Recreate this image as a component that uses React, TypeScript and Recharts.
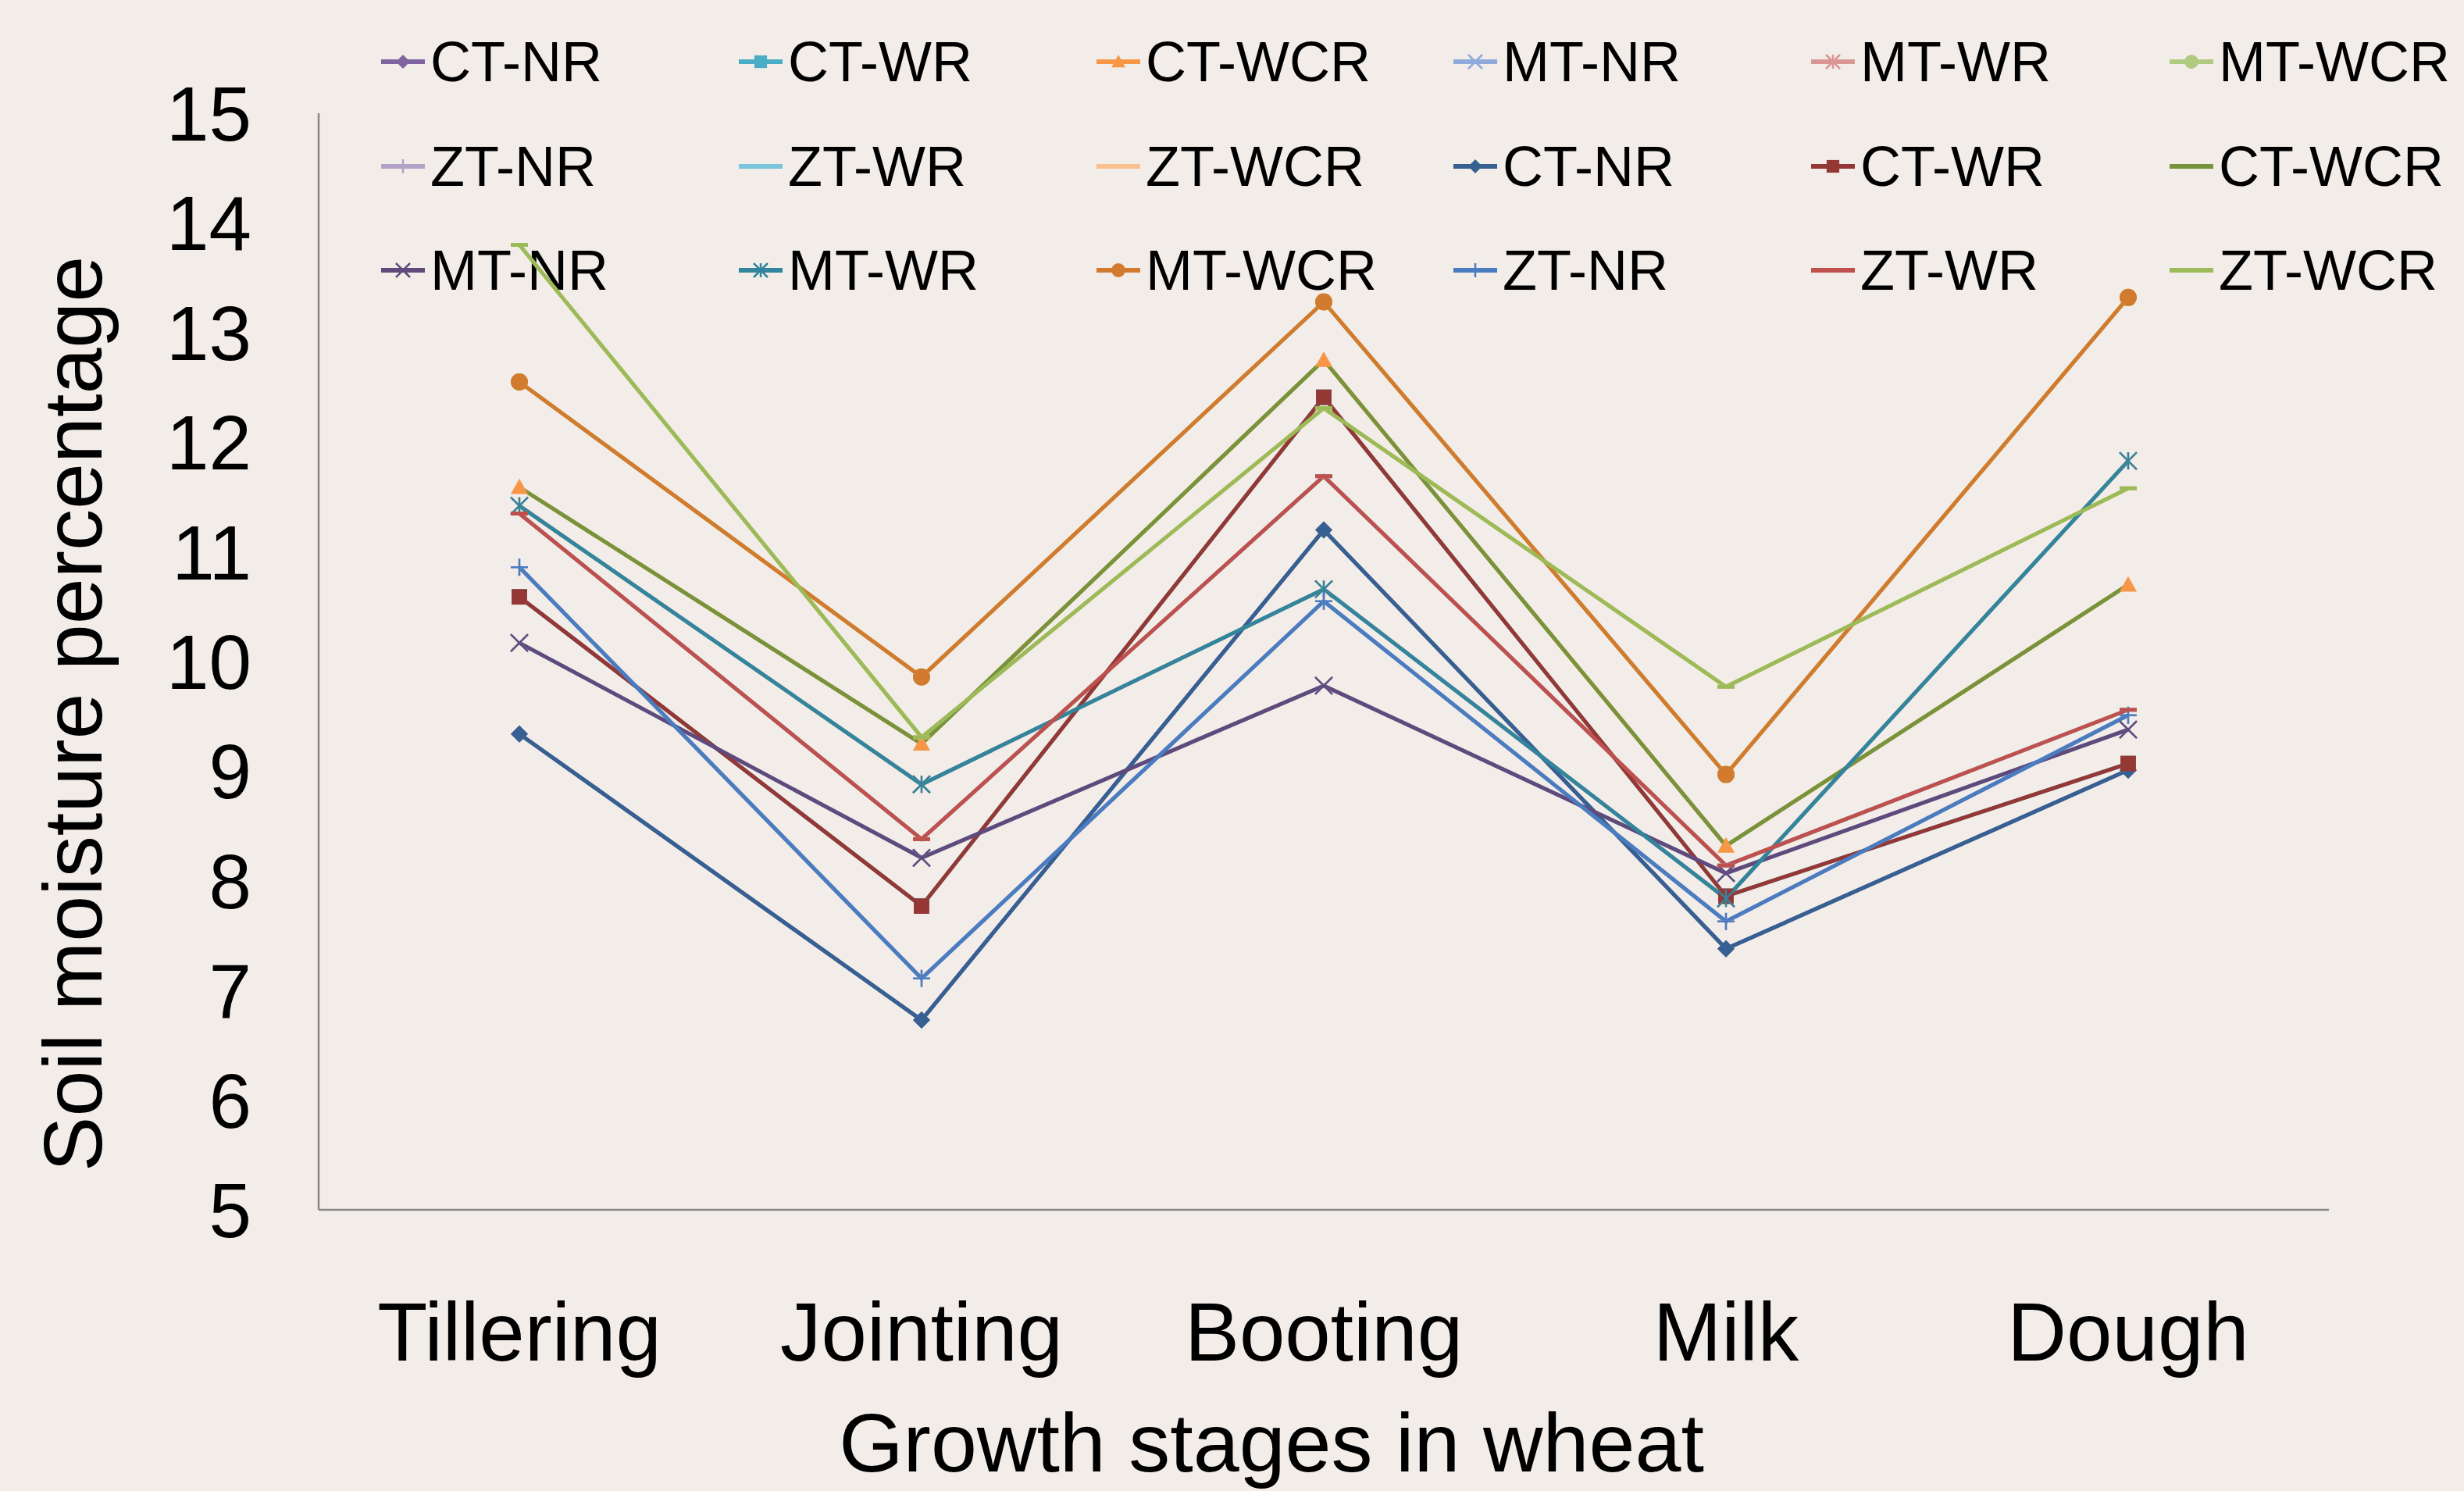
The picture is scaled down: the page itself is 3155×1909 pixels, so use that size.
import React from 'react';
import { LineChart, Line, XAxis, YAxis, Label } from 'recharts';

// growth stages and soil moisture (%) per treatment
const stages = ['Tillering', 'Jointing', 'Booting', 'Milk', 'Dough'];
const yTicks = [5, 6, 7, 8, 9, 10, 11, 12, 13, 14, 15];

const ctNR = [9.34, 6.73, 11.2, 7.38, 9.01];
const ctWR = [10.59, 7.77, 12.41, 7.86, 9.07];
const ctWCR = [11.59, 9.25, 12.75, 8.32, 10.7];
const mtNR = [10.17, 8.21, 9.78, 8.07, 9.38];
const mtWR = [11.42, 8.88, 10.66, 7.84, 11.83];
const mtWCR = [12.55, 9.86, 13.28, 8.97, 13.32];
const ztNR = [10.86, 7.11, 10.55, 7.63, 9.51];
const ztWR = [11.35, 8.38, 11.69, 8.14, 9.56];
const ztWCR = [13.8, 9.31, 12.31, 9.77, 11.58];

type Shape = 'diamond' | 'square' | 'triangle' | 'x' | 'star' | 'circle' | 'plus' | 'dash' | 'none';

interface SeriesDef {
  key: string;
  name: string;
  values: number[];
  color: string;
  shape: Shape;
}

const series: SeriesDef[] = [
  { key: 's1', name: 'CT-NR', values: ctNR, color: '#8064A2', shape: 'diamond' },
  { key: 's2', name: 'CT-WR', values: ctWR, color: '#4BACC6', shape: 'square' },
  { key: 's3', name: 'CT-WCR', values: ctWCR, color: '#F79646', shape: 'triangle' },
  { key: 's4', name: 'MT-NR', values: mtNR, color: '#8FAADC', shape: 'x' },
  { key: 's5', name: 'MT-WR', values: mtWR, color: '#D99694', shape: 'star' },
  { key: 's6', name: 'MT-WCR', values: mtWCR, color: '#B0CB80', shape: 'circle' },
  { key: 's7', name: 'ZT-NR', values: ztNR, color: '#B3A2C7', shape: 'plus' },
  { key: 's8', name: 'ZT-WR', values: ztWR, color: '#78C4DA', shape: 'dash' },
  { key: 's9', name: 'ZT-WCR', values: ztWCR, color: '#FAC090', shape: 'dash' },
  { key: 's10', name: 'CT-NR', values: ctNR, color: '#376092', shape: 'diamond' },
  { key: 's11', name: 'CT-WR', values: ctWR, color: '#953735', shape: 'square' },
  { key: 's12', name: 'CT-WCR', values: ctWCR, color: '#77933C', shape: 'none' },
  { key: 's13', name: 'MT-NR', values: mtNR, color: '#604A7B', shape: 'x' },
  { key: 's14', name: 'MT-WR', values: mtWR, color: '#31859C', shape: 'star' },
  { key: 's15', name: 'MT-WCR', values: mtWCR, color: '#D27A2E', shape: 'circle' },
  { key: 's16', name: 'ZT-NR', values: ztNR, color: '#4A7CC0', shape: 'plus' },
  { key: 's17', name: 'ZT-WR', values: ztWR, color: '#C0504D', shape: 'dash' },
  { key: 's18', name: 'ZT-WCR', values: ztWCR, color: '#9BBB59', shape: 'dash' },
];

const data = stages.map((stage, i) => {
  const row: { [k: string]: string | number } = { stage };
  series.forEach((s) => {
    row[s.key] = s.values[i];
  });
  return row;
});

const FONT = '"Liberation Sans", Arial, sans-serif';
const BG = '#F2EDE8';

function Marker({ cx, cy, shape, color, s }: { cx: number; cy: number; shape: Shape; color: string; s: number }) {
  switch (shape) {
    case 'diamond':
      return <polygon points={`${cx},${cy - s} ${cx + s},${cy} ${cx},${cy + s} ${cx - s},${cy}`} fill={color} />;
    case 'square':
      return <rect x={cx - s * 0.9} y={cy - s * 0.9} width={s * 1.8} height={s * 1.8} fill={color} />;
    case 'triangle':
      return <polygon points={`${cx},${cy - s} ${cx + s},${cy + s * 0.8} ${cx - s},${cy + s * 0.8}`} fill={color} />;
    case 'circle':
      return <circle cx={cx} cy={cy} r={s} fill={color} />;
    case 'x':
      return (
        <g stroke={color} strokeWidth={2.5}>
          <line x1={cx - s} y1={cy - s} x2={cx + s} y2={cy + s} />
          <line x1={cx - s} y1={cy + s} x2={cx + s} y2={cy - s} />
        </g>
      );
    case 'star':
      return (
        <g stroke={color} strokeWidth={2.5}>
          <line x1={cx - s} y1={cy - s} x2={cx + s} y2={cy + s} />
          <line x1={cx - s} y1={cy + s} x2={cx + s} y2={cy - s} />
          <line x1={cx} y1={cy - s} x2={cx} y2={cy + s} />
        </g>
      );
    case 'plus':
      return (
        <g stroke={color} strokeWidth={2.5}>
          <line x1={cx - s} y1={cy} x2={cx + s} y2={cy} />
          <line x1={cx} y1={cy - s} x2={cx} y2={cy + s} />
        </g>
      );
    case 'dash':
      return <line x1={cx - s} y1={cy} x2={cx + s} y2={cy} stroke={color} strokeWidth={5} />;
    default:
      return null;
  }
}

const makeDot = (s: SeriesDef) => (props: any) => {
  const { cx, cy, index } = props;
  return (
    <g key={`${s.key}-dot-${index}`}>
      <Marker cx={cx} cy={cy} shape={s.shape} color={s.color} s={11} />
    </g>
  );
};

const XTick = (props: any) => {
  const { x, payload } = props;
  return (
    <text x={x} y={1742} textAnchor="middle" fontSize={105} fontFamily={FONT} fill="#000">
      {payload.value}
    </text>
  );
};

const YTick = (props: any) => {
  const { y, payload } = props;
  return (
    <text x={322} y={y + 35} textAnchor="end" fontSize={98} fontFamily={FONT} fill="#000">
      {payload.value}
    </text>
  );
};

const legendCols = [487, 945, 1403, 1860, 2318, 2777];
const legendRows = [79, 213, 346];

function LegendOverlay() {
  return (
    <div style={{ position: 'absolute', left: 0, top: 0, width: 3155, height: 420 }}>
      {series.map((s, i) => {
        const col = i % 6;
        const row = Math.floor(i / 6);
        return (
          <div
            key={s.key}
            style={{
              position: 'absolute',
              left: legendCols[col],
              top: legendRows[row] - 45,
              height: 90,
              display: 'flex',
              alignItems: 'center',
              whiteSpace: 'nowrap',
            }}
          >
            <svg width={58} height={30} style={{ display: 'block' }}>
              <line x1={1} y1={15} x2={57} y2={15} stroke={s.color} strokeWidth={6} />
              <Marker cx={29} cy={15} shape={s.shape} color={s.color} s={9} />
            </svg>
            <span style={{ fontFamily: FONT, fontSize: 72, color: '#000', marginLeft: 6, lineHeight: '90px' }}>
              {s.name}
            </span>
          </div>
        );
      })}
    </div>
  );
}

export default function App() {
  return (
    <div style={{ position: 'absolute', left: 0, top: 0, width: 3155, height: 1909, background: BG, overflow: 'hidden' }}>
      <LegendOverlay />
      <div style={{ position: 'absolute', left: 0, top: 0 }}>
        <LineChart width={3155} height={1909} data={data} margin={{ top: 145, right: 173, left: 0, bottom: 0 }}>
          <XAxis
            dataKey="stage"
            height={360}
            padding={{ left: 257, right: 257 }}
            tickLine={false}
            tickSize={0}
            axisLine={{ stroke: '#888888', strokeWidth: 2.5 }}
            tick={<XTick />}
            interval={0}
          >
            <Label
              content={() => (
                <text x={1628} y={1884} textAnchor="middle" fontSize={106} fontFamily={FONT} fill="#000">
                  Growth stages in wheat
                </text>
              )}
            />
          </XAxis>
          <YAxis
            width={408}
            domain={[5, 15]}
            ticks={yTicks}
            type="number"
            tickLine={false}
            tickSize={0}
            axisLine={{ stroke: '#888888', strokeWidth: 2.5 }}
            tick={<YTick />}
            interval={0}
          >
            <Label
              content={() => (
                <text
                  x={130}
                  y={914}
                  transform="rotate(-90, 130, 914)"
                  textAnchor="middle"
                  fontSize={106}
                  fontFamily={FONT}
                  fill="#000"
                >
                  Soil moisture percentage
                </text>
              )}
            />
          </YAxis>
          {series.map((s) => (
            <Line
              key={s.key}
              dataKey={s.key}
              name={s.name}
              type="linear"
              stroke={s.color}
              strokeWidth={5}
              dot={makeDot(s)}
              activeDot={false}
              isAnimationActive={false}
            />
          ))}
        </LineChart>
      </div>
    </div>
  );
}
